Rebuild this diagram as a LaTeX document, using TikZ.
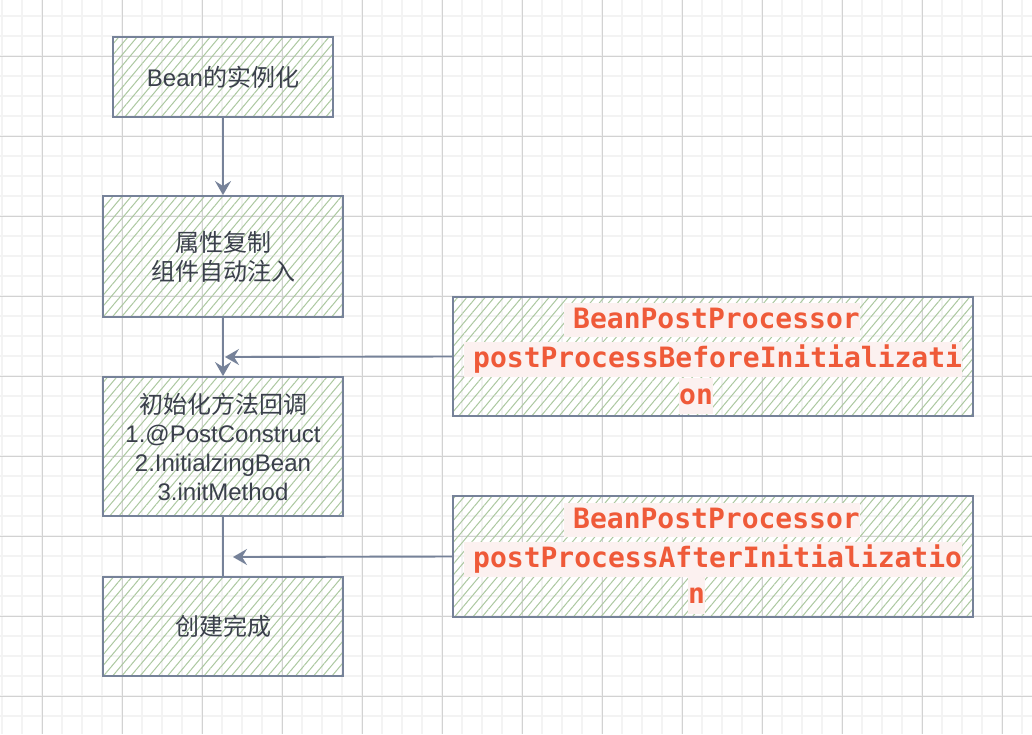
\documentclass[tikz,border=0pt]{standalone}
\usepackage{fontspec}
\setmainfont{Liberation Sans}
\newfontfamily\cjk{Noto Sans CJK SC}
\newfontfamily\codefont{DejaVu Sans Mono}
\usetikzlibrary{arrows.meta,patterns.meta}

\definecolor{stroke}{RGB}{118,130,153}
\definecolor{hatch}{RGB}{172,200,160}
\definecolor{txt}{RGB}{58,63,75}
\definecolor{codered}{RGB}{239,90,57}
\definecolor{codebg}{RGB}{252,241,240}
\definecolor{gridminor}{RGB}{243,243,243}
\definecolor{gridmajor}{RGB}{210,210,210}

\tikzset{
  box/.style={draw=stroke, line width=1.9pt,
    pattern={Lines[angle=50,distance=7pt,line width=1pt]}, pattern color=hatch,
    inner sep=0pt},
  lbl/.style={text=txt, font=\fontsize{24}{29}\selectfont, align=center},
  code/.style={fill=codebg, text=codered, anchor=west,
    font=\codefont\bfseries\fontsize{28}{34}\selectfont,
    inner xsep=0pt, inner ysep=0pt, text height=22pt, text depth=6pt, minimum height=35pt},
  conn/.style={draw=stroke, line width=1.9pt},
  arr/.style={conn, -{Stealth[length=14pt,width=16pt,inset=5pt]}},
}

\begin{document}
\begin{tikzpicture}[x=1pt,y=-1pt]
\useasboundingbox (0,0) rectangle (1032,734);
\fill[white] (0,0) rectangle (1032,734);
% grid
\foreach \x in {2,22,...,1022} \draw[gridminor, line width=1.5pt] (\x,0) -- (\x,734);
\foreach \y in {16,36,...,726} \draw[gridminor, line width=1.5pt] (0,\y) -- (1032,\y);
\foreach \x in {42,122,...,1002} \draw[gridmajor, line width=1pt] (\x,0) -- (\x,734);
\foreach \y in {56,136,...,696} \draw[gridmajor, line width=1pt] (0,\y) -- (1032,\y);

% left column
\node[box, lbl, minimum width=220pt, minimum height=80pt] (b1) at (223,77) {Bean{\cjk 的实例化}};
\node[box, lbl, minimum width=240pt, minimum height=121pt] (b2) at (223,256.5) {{\cjk 属性复制}\\{\cjk 组件自动注入}};
\node[box, lbl, minimum width=240pt, minimum height=139pt] (b3) at (223,446.5) {{\cjk 初始化方法回调}\\1.@PostConstruct\\2.InitialzingBean\\3.initMethod};
\node[box, lbl, minimum width=240pt, minimum height=99pt] (b4) at (223,626.5) {{\cjk 创建完成}};

% right column
\node[box, minimum width=520pt, minimum height=119pt] (p1) at (713,356.5) {};
\node[code, minimum height=34pt] (p1a) at (564,320) {\hspace{9pt}BeanPostProcessor\hspace{1pt}};
\node[code] (p1b) at (464,359.5) {\hspace{9pt}postProcessBeforeInitializati};
\node[code, minimum height=36pt] (p1c) at (679,396) {on\hspace{32pt}};

\node[box, minimum width=520pt, minimum height=121pt] (p2) at (713,556.5) {};
\node[code, minimum height=34pt] (p2a) at (564,520) {\hspace{9pt}BeanPostProcessor\hspace{1pt}};
\node[code] (p2b) at (464,559.5) {\hspace{9pt}postProcessAfterInitializatio};
\node[code, minimum height=37pt] (p2c) at (688,595.5) {n\hspace{32pt}};

% connectors
\coordinate (t1) at (225,357);
\coordinate (t2) at (233,557);
\draw[arr] (b1.south) -- (b2.north);
\draw[arr] (b2.south) -- (b3.north);
\draw[arr] (p1.west) -- (t1);
\draw[conn] (b3.south) -- (b4.north);
\draw[arr] (p2.west) -- (t2);
\end{tikzpicture}
\end{document}
